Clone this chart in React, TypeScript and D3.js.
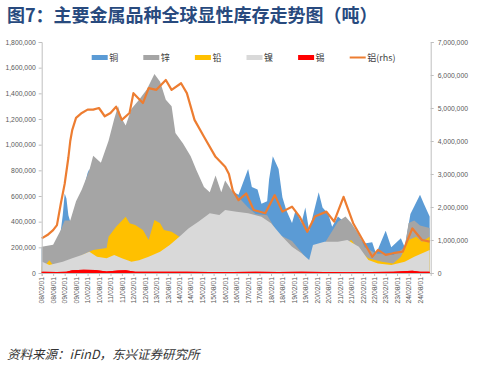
import { useRef, useEffect } from 'react';
import * as d3 from 'd3';

// stocks in thousand tonnes, [month, value]
const copper: [string, number][] = [
  ['2008-02', 200], ['2008-06', 190], ['2008-10', 235], ['2008-12', 330], ['2009-01', 450],
  ['2009-02', 620], ['2009-03', 580], ['2009-04', 450], ['2009-05', 400], ['2009-08', 450],
  ['2009-11', 600], ['2010-02', 780], ['2010-03', 810], ['2010-05', 700], ['2010-08', 560],
  ['2010-12', 520], ['2011-06', 600], ['2011-12', 580], ['2012-06', 500], ['2012-12', 520],
  ['2013-06', 650], ['2013-12', 500], ['2014-06', 300], ['2014-12', 330], ['2015-06', 500],
  ['2015-12', 560], ['2016-04', 650], ['2016-09', 610], ['2017-02', 810], ['2017-04', 670],
  ['2017-07', 650], ['2017-09', 540], ['2017-12', 560], ['2018-01', 730], ['2018-03', 910],
  ['2018-06', 810], ['2018-08', 590], ['2018-10', 490], ['2019-01', 390], ['2019-03', 490],
  ['2019-06', 390], ['2019-08', 510], ['2019-10', 330], ['2020-03', 630], ['2020-05', 510],
  ['2020-08', 460], ['2020-10', 360], ['2021-01', 440], ['2021-05', 390], ['2021-08', 330],
  ['2021-12', 280], ['2022-03', 230], ['2022-07', 240], ['2022-09', 150], ['2023-02', 330],
  ['2023-05', 200], ['2023-10', 270], ['2023-12', 200], ['2024-03', 460], ['2024-08', 610],
  ['2024-10', 540], ['2025-01', 440],
];

const zinc: [string, number][] = [
  ['2008-02', 205], ['2008-08', 220], ['2008-12', 335], ['2009-02', 410], ['2009-05', 410],
  ['2009-08', 560], ['2009-11', 650], ['2010-03', 800], ['2010-05', 914], ['2010-09', 860],
  ['2011-01', 1030], ['2011-04', 1200], ['2011-06', 1300], ['2011-08', 1200], ['2011-10', 1150],
  ['2012-01', 1280], ['2012-05', 1350], ['2012-09', 1430], ['2013-01', 1550], ['2013-04', 1490],
  ['2013-07', 1350], ['2013-10', 1300], ['2013-12', 1090], ['2014-04', 1010], ['2014-08', 910],
  ['2014-11', 800], ['2015-03', 670], ['2015-06', 630], ['2015-09', 760], ['2015-12', 630],
  ['2016-02', 720], ['2016-06', 630], ['2016-09', 590], ['2017-02', 510], ['2017-06', 460],
  ['2017-12', 450], ['2018-06', 300], ['2019-01', 250], ['2019-10', 90], ['2020-06', 230],
  ['2021-01', 400], ['2021-05', 440], ['2021-08', 390], ['2021-12', 300], ['2022-03', 200],
  ['2022-07', 170], ['2022-09', 150], ['2023-02', 150], ['2023-06', 140], ['2023-10', 180],
  ['2023-12', 200], ['2024-02', 390], ['2024-05', 410], ['2024-08', 370], ['2025-01', 350],
];

const lead: [string, number][] = [
  ['2008-02', 50], ['2008-04', 60], ['2008-06', 100], ['2008-08', 60], ['2009-01', 40],
  ['2009-06', 100], ['2009-10', 130], ['2010-03', 166], ['2010-05', 180], ['2010-12', 195],
  ['2011-01', 283], ['2011-05', 361], ['2011-10', 439], ['2011-12', 387], ['2012-03', 374],
  ['2012-07', 335], ['2012-10', 257], ['2013-01', 413], ['2013-04', 387], ['2013-06', 335],
  ['2013-10', 322], ['2014-02', 283], ['2014-06', 250], ['2015-06', 230], ['2016-06', 220],
  ['2017-06', 200], ['2018-06', 160], ['2019-06', 95], ['2019-10', 90], ['2020-06', 150],
  ['2021-01', 180], ['2021-08', 257], ['2021-12', 179], ['2022-05', 114], ['2022-12', 88],
  ['2023-06', 75], ['2023-10', 127], ['2024-02', 257], ['2024-06', 283], ['2024-09', 244],
  ['2025-01', 283],
];

const nickel: [string, number][] = [
  ['2008-02', 90], ['2008-06', 62], ['2009-01', 88], ['2009-06', 114], ['2009-11', 140],
  ['2010-03', 166], ['2010-07', 127], ['2010-12', 114], ['2011-04', 140], ['2011-08', 114],
  ['2012-01', 88], ['2012-05', 100], ['2012-10', 127], ['2013-04', 166], ['2013-09', 218],
  ['2014-02', 283], ['2014-07', 348], ['2014-12', 400], ['2015-06', 465], ['2015-11', 452],
  ['2016-02', 491], ['2016-08', 478], ['2017-02', 465], ['2017-09', 439], ['2018-02', 387],
  ['2018-08', 283], ['2019-01', 205], ['2019-06', 153], ['2019-10', 101], ['2019-12', 218],
  ['2020-06', 244], ['2021-01', 244], ['2021-06', 257], ['2021-12', 205], ['2022-05', 101],
  ['2022-10', 75], ['2023-05', 62], ['2023-12', 88], ['2024-05', 127], ['2025-01', 179],
];

const tin: [string, number][] = [
  ['2008-02', 10], ['2008-10', 8], ['2009-03', 10], ['2009-06', 22], ['2009-12', 25],
  ['2010-06', 24], ['2010-12', 12], ['2011-06', 20], ['2011-10', 22], ['2012-03', 10],
  ['2013-06', 10], ['2014-06', 9], ['2015-06', 8], ['2016-06', 8], ['2017-06', 9],
  ['2018-06', 8], ['2019-06', 9], ['2020-06', 8], ['2021-06', 6], ['2022-06', 8],
  ['2023-06', 10], ['2024-04', 18], ['2024-08', 10], ['2025-01', 10],
];

// right axis
const aluminum: [string, number][] = [
  ['2008-02', 1050], ['2008-05', 1150], ['2008-08', 1300], ['2008-10', 1450], ['2008-12', 2100],
  ['2009-02', 2700], ['2009-04', 3500], ['2009-05', 4000], ['2009-06', 4330], ['2009-08', 4700],
  ['2009-11', 4850], ['2010-02', 4950], ['2010-05', 4950], ['2010-08', 5000], ['2010-11', 4750],
  ['2011-02', 4850], ['2011-05', 5040], ['2011-08', 4640], ['2011-12', 4850], ['2012-02', 5450],
  ['2012-07', 5150], ['2012-10', 5600], ['2013-02', 5550], ['2013-07', 5850], ['2013-10', 5550],
  ['2014-03', 5750], ['2014-06', 5450], ['2014-10', 4640], ['2015-03', 4130], ['2015-09', 3520],
  ['2016-02', 3220], ['2016-04', 3000], ['2016-06', 2500], ['2016-09', 2210], ['2017-01', 2410],
  ['2017-05', 1910], ['2017-11', 1810], ['2018-04', 2360], ['2018-08', 1860], ['2019-01', 2010],
  ['2019-05', 1710], ['2019-09', 1250], ['2020-01', 1710], ['2020-07', 1860], ['2020-11', 1560],
  ['2021-04', 2310], ['2021-09', 1510], ['2022-01', 1100], ['2022-07', 490], ['2022-10', 700],
  ['2023-02', 550], ['2023-06', 600], ['2023-11', 650], ['2024-04', 1350], ['2024-09', 1000],
  ['2025-01', 950],
];

const AREAS = [
  { name: '铜', data: copper, color: '#5B9BD5' },
  { name: '锌', data: zinc, color: '#A5A5A5' },
  { name: '铅', data: lead, color: '#FFC000' },
  { name: '镍', data: nickel, color: '#D9D9D9' },
  { name: '锡', data: tin, color: '#FF0000' },
];
const LINE = { name: '铝(rhs)', data: aluminum, color: '#ED7D31' };

const leftTicks = d3.range(0, 1800001, 200000);
const rightTicks = d3.range(0, 7000001, 1000000);

export default function App() {
  const svgRef = useRef<SVGSVGElement>(null);

  useEffect(() => {
    if (!svgRef.current) return;
    const width = 480;
    const height = 368;
    const margin = { top: 42, right: 49.3, bottom: 95, left: 41.7 };

    const svg = d3.select(svgRef.current);
    svg.selectAll('*').remove();
    svg.attr('width', width).attr('height', height);

    const parse = d3.timeParse('%Y-%m');
    const x = d3.scaleTime()
      .domain([new Date(2008, 1, 1), new Date(2025, 0, 18)])
      .range([margin.left, width - margin.right]);
    const yL = d3.scaleLinear().domain([0, 1800000]).range([height - margin.bottom, margin.top]);
    const yR = d3.scaleLinear().domain([0, 7000000]).range([height - margin.bottom, margin.top]);

    svg.append('rect').attr('width', width).attr('height', height).attr('fill', 'white');

    // Title
    svg.append('text')
      .attr('x', 7).attr('y', 21.5)
      .attr('fill', '#284A7E')
      .attr('font-size', '18px').attr('font-weight', 'bold')
      .attr('font-family', '"Noto Sans CJK SC", sans-serif')
      .text('图7：主要金属品种全球显性库存走势图（吨）');

    // Overlapping areas
    AREAS.forEach(s => {
      const area = d3.area<[string, number]>()
        .x(d => x(parse(d[0])!))
        .y0(yL(0))
        .y1(d => yL(d[1] * 1000));
      svg.append('path').datum(s.data).attr('d', area).attr('fill', s.color);
    });

    // Aluminum on the right axis
    const line = d3.line<[string, number]>()
      .x(d => x(parse(d[0])!))
      .y(d => yR(d[1] * 1000));
    svg.append('path').datum(LINE.data).attr('d', line)
      .attr('fill', 'none').attr('stroke', LINE.color).attr('stroke-width', 2.2)
      .attr('stroke-linejoin', 'round');

    const tickFont = '"Liberation Sans", Arial, sans-serif';

    // Left axis
    svg.append('g')
      .attr('transform', `translate(${margin.left},0)`)
      .call(d3.axisLeft(yL).tickValues(leftTicks).tickSize(3).tickPadding(3).tickFormat(d3.format(',')))
      .call(g => g.select('.domain').attr('stroke', '#BFBFBF'))
      .call(g => g.selectAll('.tick line').attr('stroke', '#BFBFBF'))
      .call(g => g.selectAll('.tick text').attr('fill', '#595959').attr('font-size', '6.8px').attr('font-family', tickFont));

    // Right axis
    svg.append('g')
      .attr('transform', `translate(${width - margin.right},0)`)
      .call(d3.axisRight(yR).tickValues(rightTicks).tickSize(3).tickPadding(4).tickFormat(d3.format(',')))
      .call(g => g.select('.domain').attr('stroke', '#BFBFBF'))
      .call(g => g.selectAll('.tick line').attr('stroke', '#BFBFBF'))
      .call(g => g.selectAll('.tick text').attr('fill', '#595959').attr('font-size', '6.8px').attr('font-family', tickFont));

    // Bottom axis, half-year ticks
    const xTicks = d3.timeMonth.range(new Date(2008, 1, 1), new Date(2024, 8, 2), 6);
    const fmt = d3.timeFormat('%y/%m/%d');
    const xg = svg.append('g')
      .attr('transform', `translate(0,${height - margin.bottom})`)
      .call(d3.axisBottom(x).tickValues(xTicks).tickSize(3).tickFormat(d => fmt(d as Date)))
      .call(g => g.select('.domain').attr('stroke', '#BFBFBF'))
      .call(g => g.selectAll('.tick line').attr('stroke', '#BFBFBF'));
    xg.selectAll<SVGTextElement, Date>('.tick text')
      .attr('fill', '#595959').attr('font-size', '6.8px').attr('font-family', tickFont)
      .attr('transform', 'rotate(-90)')
      .attr('text-anchor', 'end')
      .attr('x', -4).attr('y', 0).attr('dy', '0.33em');
    // redraw tin on top of the axis line
    svg.append('path').datum(tin)
      .attr('d', d3.area<[string, number]>().x(d => x(parse(d[0])!)).y0(yL(0)).y1(d => yL(d[1] * 1000)))
      .attr('fill', '#FF0000');

    // Legend
    const items = [...AREAS.map(s => ({ name: s.name, color: s.color, line: false })), { name: LINE.name, color: LINE.color, line: true }];
    items.forEach((it, i) => {
      const lx = 91.7 + i * 51.6;
      const ly = 57.5;
      if (it.line) {
        svg.append('line').attr('x1', lx).attr('x2', lx + 16).attr('y1', ly).attr('y2', ly)
          .attr('stroke', it.color).attr('stroke-width', 2);
      } else {
        svg.append('rect').attr('x', lx).attr('y', ly - 2.5).attr('width', 16).attr('height', 5).attr('fill', it.color);
      }
      svg.append('text').attr('x', lx + 17.5).attr('y', ly + 3.2)
        .attr('fill', '#404040').attr('font-size', '9px')
        .attr('font-family', '"Noto Sans CJK SC", sans-serif')
        .text(it.name);
    });

    // Source
    svg.append('text')
      .attr('x', 7).attr('y', 359)
      .attr('fill', '#333').attr('font-size', '12.5px').attr('font-style', 'italic')
      .attr('font-family', '"Noto Sans CJK SC", sans-serif')
      .text('资料来源：iFinD，东兴证券研究所');
  }, []);

  return <svg ref={svgRef} style={{ position: 'absolute', left: 0, top: 0 }} />;
}
